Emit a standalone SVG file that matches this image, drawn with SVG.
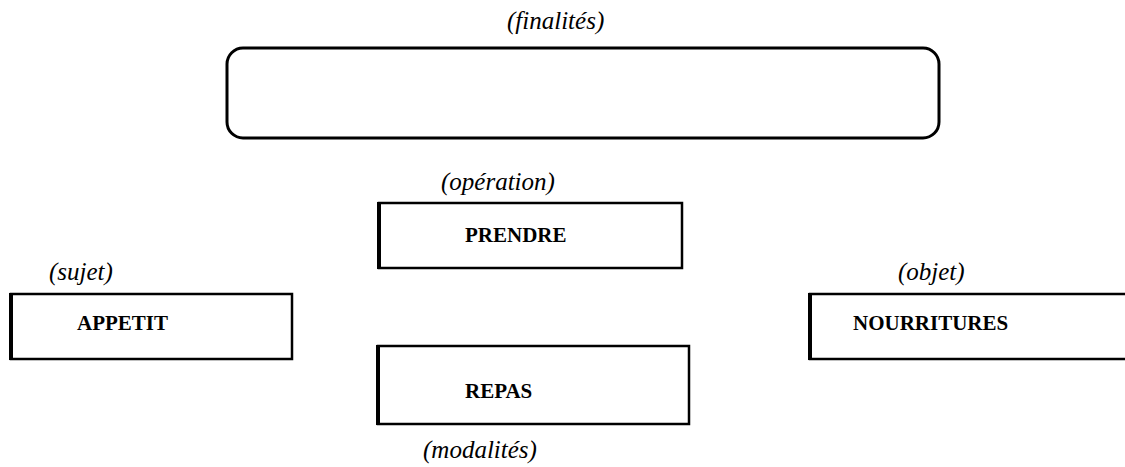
<svg xmlns="http://www.w3.org/2000/svg" width="1125" height="467" viewBox="0 0 1125 467">
<style>
.box{fill:#fff;stroke:#000;stroke-width:2.5}
.edge{stroke:#000;stroke-width:4}
.lab{font-family:"Liberation Serif",serif;font-style:italic;font-size:25px;fill:#000}
.name{font-family:"Liberation Serif",serif;font-weight:bold;font-size:21px;fill:#000}
</style>
<rect width="1125" height="467" fill="#fff"/>
<g id="finalites">
<rect x="227" y="48" width="712" height="90" rx="16" ry="16" fill="#fff" stroke="#000" stroke-width="3"/>
<text class="lab" x="507" y="29">(finalités)</text>
</g>
<g id="prendre">
<rect class="box" x="379" y="203" width="303" height="65"/>
<line class="edge" x1="379" y1="202" x2="379" y2="269"/>
<text class="lab" x="441" y="190">(opération)</text>
<text class="name" x="465" y="242">PRENDRE</text>
</g>
<g id="appetit">
<rect class="box" x="11" y="294" width="281" height="65"/>
<line class="edge" x1="11" y1="293" x2="11" y2="360"/>
<text class="lab" x="49" y="280">(sujet)</text>
<text class="name" x="77" y="330">APPETIT</text>
</g>
<g id="nourritures">
<rect class="box" x="810" y="294" width="330" height="65"/>
<line class="edge" x1="810" y1="293" x2="810" y2="360"/>
<text class="lab" x="898" y="280">(objet)</text>
<text class="name" x="853" y="330">NOURRITURES</text>
</g>
<g id="repas">
<rect class="box" x="378" y="346" width="311" height="78"/>
<line class="edge" x1="378" y1="345" x2="378" y2="425"/>
<text class="name" x="465" y="398">REPAS</text>
<text class="lab" x="423" y="458">(modalités)</text>
</g>
<g id="connectors"></g>
</svg>
